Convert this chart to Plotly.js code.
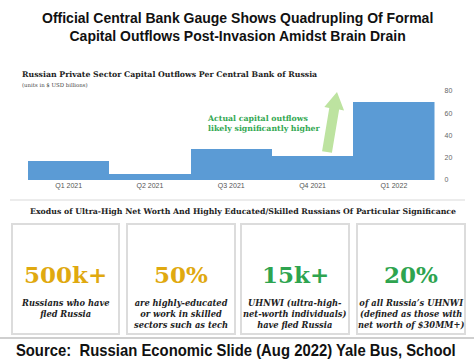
<!DOCTYPE html>
<html><head><meta charset="utf-8">
<script src="https://cdn.plot.ly/plotly-3.0.1.min.js"></script>
<style>html,body{margin:0;padding:0;background:#fff}#chart{width:474px;height:362px}</style>
</head><body><div id="chart"></div>
<script>
// Data
const quarters = ['Q1 2021','Q2 2021','Q3 2021','Q4 2021','Q1 2022'];
const outflows = [17, 5, 27.5, 22, 70];
const yTicks = [0, 20, 40, 60, 80];
const statValues = ['500k+','50%','15k+','20%'];
const statColors = ['#e0a90f','#e0a90f','#2ea44f','#2ea44f'];
const statTexts = [
  'Russians who have<br>fled Russia',
  'are highly-educated<br>or work in skilled<br>sectors such as tech',
  'UHNWI (ultra-high-<br>net-worth individuals)<br>have fled Russia',
  'of all Russia\u2019s UHNWI<br>(defined as those with<br>net worth of $30MM+)'
];

const W = 474, H = 362;
const px = x => x / W;
const py = y => 1 - y / H;

const serif = 'DejaVu Serif, Liberation Serif, serif';
const sans = 'Liberation Sans, Arial, sans-serif';

const annotations = [];
function txt(text, x, y, size, color, family, opts) {
  annotations.push(Object.assign({
    text: text, x: px(x), y: py(y), xref: 'paper', yref: 'paper',
    showarrow: false, xanchor: 'center', yanchor: 'middle',
    font: {size: size, color: color, family: family}
  }, opts || {}));
}

// Titles
txt('<b>Official Central Bank Gauge Shows Quadrupling Of Formal<br>Capital Outflows Post-Invasion Amidst Brain Drain</b>', 237, 27, 14, '#111', sans, {});
txt('<b>Russian Private Sector Capital Outflows Per Central Bank of Russia</b>', 20, 74, 7.8, '#222', serif, {xanchor: 'left'});
txt('(units in $ USD billions)', 20, 85, 5.4, '#444', serif, {xanchor: 'left'});
txt('<b>Actual capital outflows<br>likely significantly higher</b>', 205, 123, 7.8, '#33a852', serif, {xanchor: 'left', align: 'left'});
txt('<b>Exodus of Ultra-High Net Worth And Highly Educated/Skilled Russians Of Particular Significance</b>', 243, 212, 7.8, '#222', serif, {});

// Boxes
const boxes = [[12,119],[127,235],[241,349],[357,465]];
const shapes = [];
boxes.forEach((b, i) => {
  shapes.push({type:'rect', xref:'paper', yref:'paper', x0:px(b[0]), x1:px(b[1]), y0:py(334), y1:py(224),
    line:{color:'#dcdcdc', width:2}, fillcolor:'rgba(0,0,0,0)'});
  const cx = (b[0] + b[1]) / 2;
  txt('<b>' + statValues[i] + '</b>', cx, 274, 23, statColors[i], serif, {});
  txt('<b><i>' + statTexts[i] + '</i></b>', cx, 296, 8.3, '#222', serif, {yanchor: 'top'});
});

// separators
shapes.push({type:'line', xref:'paper', yref:'paper', x0:px(10), x1:px(465), y0:py(200), y1:py(200), line:{color:'#ececec', width:2}});
shapes.push({type:'line', xref:'paper', yref:'paper', x0:0, x1:1, y0:py(338), y1:py(338), line:{color:'#cfcfcf', width:2}});

// Arrow
(function(){
  const bx = 327, by = 152, tx = 337, ty = 92;
  const dx = tx - bx, dy = ty - by, L = Math.hypot(dx, dy);
  const ux = dx / L, uy = dy / L, nx = -uy, ny = ux;
  const sw = 5, hw = 10, hl = 17;
  const hx = tx - ux * hl, hy = ty - uy * hl;
  const pts = [
    [bx + nx*sw, by + ny*sw], [hx + nx*sw, hy + ny*sw], [hx + nx*hw, hy + ny*hw], [tx, ty],
    [hx - nx*hw, hy - ny*hw], [hx - nx*sw, hy - ny*sw], [bx - nx*sw, by - ny*sw]
  ];
  const path = 'M ' + pts.map(p => px(p[0]).toFixed(5) + ' ' + py(p[1]).toFixed(5)).join(' L ') + ' Z';
  shapes.push({type:'path', xref:'paper', yref:'paper', path: path, fillcolor:'#bde3a0', line:{width:0}, layer:'above'});
})();

txt('<b>Source:  Russian Economic Slide (Aug 2022) Yale Bus, School</b>', 236, 350, 16, '#111', sans, {});

const data = [{
  type: 'bar', x: quarters, y: outflows, width: 1,
  marker: {color: '#5b9bd5', line: {width: 0}}, hoverinfo: 'skip'
}];

const layout = {
  width: W, height: H,
  margin: {l:0, r:0, t:0, b:0},
  paper_bgcolor: '#fff', plot_bgcolor: 'rgba(0,0,0,0)',
  showlegend: false, bargap: 0,
  xaxis: {domain: [px(28), px(434.5)], range: [-0.5, 4.5], type: 'category',
    showgrid: false, zeroline: false, showline: false, ticks: '',
    tickfont: {size: 7, color: '#555', family: sans}, fixedrange: true},
  yaxis: {domain: [py(180), py(91)], range: [0, 80], side: 'right', tickvals: yTicks,
    showgrid: false, zeroline: false, showline: false, ticks: '', ticklabelstandoff: 9,
    tickfont: {size: 7, color: '#666', family: sans}, fixedrange: true},
  shapes: shapes,
  annotations: annotations
};

Plotly.newPlot('chart', data, layout, {displayModeBar: false, staticPlot: true}).then(gd => {
  // condense the source line horizontally to fit the width used in the reference
  const anns = gd.querySelectorAll('.annotation');
  const last = anns[anns.length - 1];
  const t = last.querySelector('text');
  if (t) {
    const w = t.getBBox().width;
    const sx = Math.min(1, 440 / w);
    t.style.transformBox = 'fill-box';
    t.style.transformOrigin = 'center';
    t.style.transform = 'scaleX(' + sx + ')';
  }
});
</script></body></html>
